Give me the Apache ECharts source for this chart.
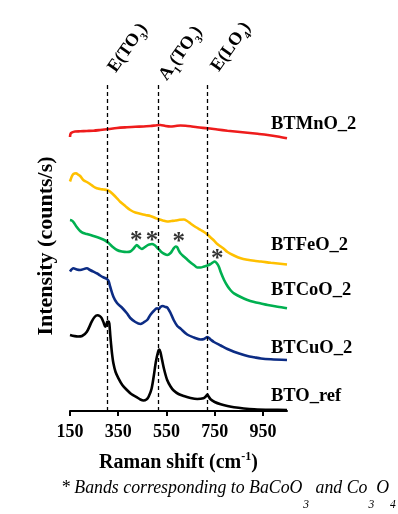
<!DOCTYPE html>
<html><head><meta charset="utf-8">
<script src="https://cdn.jsdelivr.net/npm/echarts@6/dist/echarts.min.js"></script>
<style>html,body{margin:0;padding:0;background:#fff}#c{width:398px;height:514px}</style>
</head><body><div id="c"></div>
<script>
// ---- data (Raman shift in cm-1, intensity in arbitrary stacked units) ----
const xTicks = [150, 350, 550, 750, 950];
const bandPositions = [306, 517, 718];
const seriesNames = ['BTMnO_2', 'BTFeO_2', 'BTCoO_2', 'BTCuO_2', 'BTO_ref'];

const mnShift = [150,152,157,171,192,220,247,275,310,345,386,421,455,483,504,525,546,567,588,608,629,650,678,720,761,803,845,886,928,970,1011,1050];
const mnInt   = [274,277,278.3,279.5,279.7,280,280.3,281,282,283,283.7,284.2,284.5,285,285.5,286,285,284.5,285,285.5,285.3,284.7,283.7,282.7,281.5,280.3,279.3,278.3,277.2,276,274.5,272.7];

const feShift = [150,157,164,175,183,192,205,220,233,247,261,275,289,303,313,324,345,358,379,400,421,463,483,504,518,535,553,571,588,604,622,636,650,671,692,706,720,733,747,761,775,789,803,830,858,886,914,942,983,1050];
const feInt   = [229.5,234.3,237,237.7,236.5,235,231,229,227,224.5,222.7,222,221.5,221,220,217.7,212.7,209.3,205,201,198.5,196,195,193,191.7,190.5,189.5,190,190.5,191.2,191.5,190,187.5,184,181,179,176.5,173.5,170.5,167,164.5,162,159,155.5,152.7,151.2,150.2,149.5,148.2,146.5];

const coShift = [150,157,164,178,192,205,220,247,275,296,310,325,345,365,386,400,414,427,438,448,458,470,479,490,500,511,521,529,542,554,567,577,588,594,600,608,622,636,650,664,678,692,706,720,733,742,750,758,767,775,789,803,817,830,858,886,914,942,970,1011,1050];
const coInt   = [191,190.5,189,184,180,178,177,175,172.7,170.5,168,164.5,161,159.5,159,159.5,162.5,166,163.5,162,163.5,165.5,166.5,167,166,163.5,161,159,157,156,158,161.5,164.5,164,161,157.7,154.5,151.5,148.5,146,143.5,143.5,144.5,145.5,147,148.5,149.5,148,144.5,139,131,125,120.5,117.7,114,111,109,107.5,106,104.2,102.7];

const cuShift = [150,164,178,192,220,233,247,263,275,290,303,310,317,330,345,365,386,400,421,442,455,470,483,497,511,519,525,535,546,553,560,567,580,595,608,636,664,692,706,720,733,747,775,803,830,858,886,914,942,983,1050];
const cuInt   = [139.5,142.7,141.5,141,142.7,141,139.3,137.5,135.5,133.5,132,130,124,114.3,108,103.5,97.7,93,89,87,88.5,91,96,100,102.7,102,104,105,104,103.5,101,98,91,85,82.5,76.5,73.5,71.5,72,74,71.5,69,65.5,62,59.3,57,55,53.7,52.5,51.7,51];

const btoShift = [150,183,200,220,240,252,264,273,282,290,296,301,305,310,313,317,320,324,330,339,351,367,386,404,428,442,455,467,476,488,497,506,515,520,525,532,540,553,567,580,600,622,650,678,703,713,720,725,733,750,775,803,830,871,914,983,1050];
const btoInt   = [76,74.5,75,79.3,89.3,94,95.7,95,92.7,88,84.3,86,89.3,89.5,87.7,76,67.7,58,47.7,39,32.7,26,21,17,13.7,11.5,10.5,11.5,14.3,22,34.3,49,59,61.5,59,51,42,31,24.5,20.5,17,15,13,12,12.7,14.5,16.5,14.5,11.7,9,6.7,5,3.7,2.5,1.7,1.2,1];

const starShift = [425, 490, 601, 761];
const starInt   = [169, 169.5, 168, 151];

const colors = ['#ee1c1c', '#ffc000', '#00b050', '#0c2c84', '#000000'];
// ------------------------------------------------------------------------

const zip = (xs, ys) => xs.map((x, i) => [x, ys[i]]);
const FONT = '"Liberation Serif", "Times New Roman", serif';

const lineSeries = [
  [mnShift, mnInt], [feShift, feInt], [coShift, coInt], [cuShift, cuInt], [btoShift, btoInt]
].map((d, i) => ({
  name: seriesNames[i], type: 'line', data: zip(d[0], d[1]), showSymbol: false, symbol: 'none',
  smooth: 0.3, lineStyle: { color: colors[i], width: 2.6 }, z: 3, silent: true
}));

lineSeries[4].markLine = {
  silent: true, symbol: 'none', label: { show: false },
  lineStyle: { color: '#000', type: [4, 3], width: 1.3 },
  data: bandPositions.map(b => [{ coord: [b, 0] }, { coord: [b, 328] }])
};

const starSeries = {
  type: 'scatter', data: zip(starShift, starInt), symbolSize: 0, silent: true,
  label: { show: true, position: 'inside', formatter: '*', color: '#000',
           fontFamily: FONT, fontWeight: 'bold', fontSize: 25 }
};

const subRich = {
  a: { fontFamily: FONT, fontWeight: 'bold', fontSize: 18, color: '#000', lineHeight: 20, verticalAlign: 'top' },
  s: { fontFamily: FONT, fontWeight: 'bold', fontSize: 11, color: '#000', lineHeight: 11, padding: [11, 0, 0, 0], verticalAlign: 'top' }
};
const rot = 55 * Math.PI / 180;
function bandLabel(text, x, y) {
  return { type: 'text', x: x, y: y, rotation: rot,
    style: { text: text, rich: subRich, align: 'left', verticalAlign: 'bottom', textAlign: 'left', textVerticalAlign: 'bottom' } };
}
function nameLabel(text, y) {
  return { type: 'text', x: 271, y: y,
    style: { text: text, fill: '#000', font: 'bold 18.5px ' + FONT, align: 'left', verticalAlign: 'middle', textAlign: 'left', textVerticalAlign: 'middle' } };
}

const option = {
  animation: false,
  backgroundColor: '#fff',
  grid: { left: 70, right: 111, top: 81, bottom: 103 },
  xAxis: {
    type: 'value', min: 150, max: 1050,
    name: '{a|Raman shift (cm}{sup|-1}{a|)}',
    nameLocation: 'middle', nameGap: 40,
    nameTextStyle: {
      rich: {
        a: { fontFamily: FONT, fontWeight: 'bold', fontSize: 20, color: '#000', lineHeight: 22, verticalAlign: 'bottom' },
        sup: { fontFamily: FONT, fontWeight: 'bold', fontSize: 12, color: '#000', lineHeight: 22, verticalAlign: 'top', padding: [0, 0, 8, 0] }
      }
    },
    axisLine: { show: true, lineStyle: { color: '#000', width: 2 } },
    axisTick: { show: true, length: 5, lineStyle: { color: '#000', width: 2 }, customValues: xTicks },
    axisLabel: { show: true, customValues: xTicks, margin: 12, color: '#000',
                 fontFamily: FONT, fontWeight: 'bold', fontSize: 18 },
    splitLine: { show: false }
  },
  yAxis: {
    type: 'value', min: 0, max: 330,
    name: 'Intensity (counts/s)', nameLocation: 'middle', nameGap: 13, nameRotate: 90,
    nameTextStyle: { fontFamily: FONT, fontWeight: 'bold', fontSize: 22, color: '#000' },
    axisLine: { show: false }, axisTick: { show: false }, axisLabel: { show: false }, splitLine: { show: false }
  },
  series: [...lineSeries, starSeries],
  graphic: {
    elements: [
      bandLabel('{a|E(TO}{s|3}{a|)}', 121, 77),
      bandLabel('{a|A}{s|1}{a|(TO}{s|3}{a|)}', 172, 85),
      bandLabel('{a|E(LO}{s|4}{a|)}', 224, 76),
      nameLabel(seriesNames[0], 124),
      nameLabel(seriesNames[1], 245),
      nameLabel(seriesNames[2], 290),
      nameLabel(seriesNames[3], 348),
      nameLabel(seriesNames[4], 396.5),
      { type: 'text', x: 61, y: 479,
        style: {
          text: '{a|* Bands corresponding to BaCoO}{s|3}{a| and Co}{s|3}{a|O}{s|4}',
          rich: {
            a: { fontFamily: FONT, fontStyle: 'italic', fontSize: 17.8, color: '#000', lineHeight: 20, verticalAlign: 'top' },
            s: { fontFamily: FONT, fontStyle: 'italic', fontSize: 11.5, color: '#000', lineHeight: 12, padding: [20, 2, 0, 1], verticalAlign: 'top' }
          },
          align: 'left', verticalAlign: 'top', textAlign: 'left', textVerticalAlign: 'top'
        } }
    ]
  }
};

const chart = echarts.init(document.getElementById('c'), null, { renderer: 'canvas' });
chart.setOption(option);
</script>
</body></html>
